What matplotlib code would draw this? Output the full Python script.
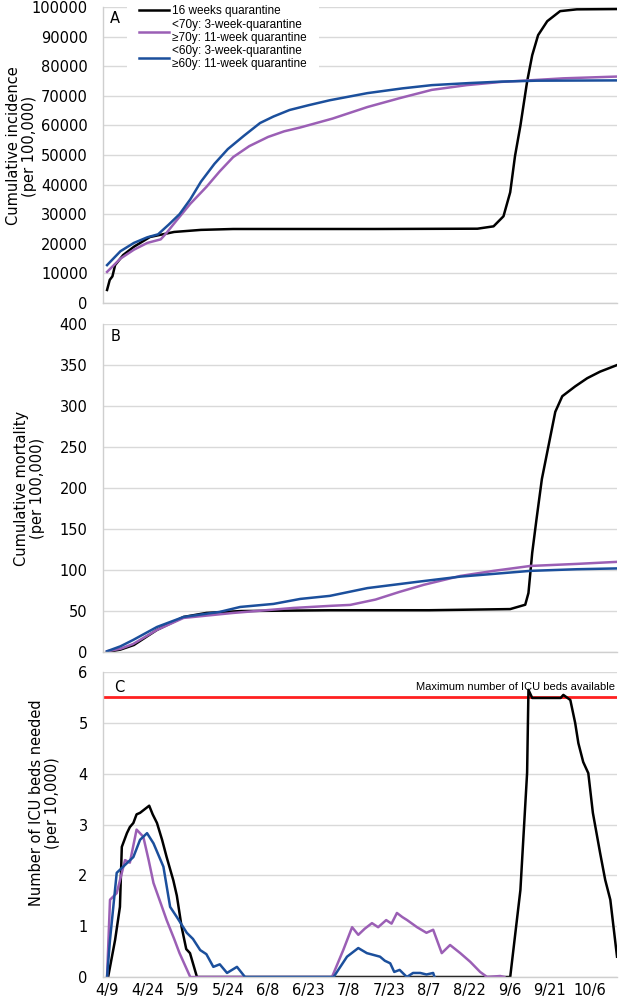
#!/usr/bin/env python3
"""
Quarantine scenarios: cumulative incidence, cumulative mortality and ICU beds needed
"""

import matplotlib
matplotlib.use('Agg')
import matplotlib.pyplot as plt

# day 0 = 4/9
tick_days = [0, 15, 30, 45, 60, 75, 90, 105, 120, 135, 150, 165, 180]
tick_labels = ['4/9', '4/24', '5/9', '5/24', '6/8', '6/23', '7/8', '7/23',
               '8/7', '8/22', '9/6', '9/21', '10/6']

legend_labels = ['16 weeks quarantine',
                 '<70y: 3-week-quarantine\n≥70y: 11-week quarantine',
                 '<60y: 3-week-quarantine\n≥60y: 11-week quarantine']

# Panel A - cumulative incidence (per 100,000)
inc_black_days = [0, 1, 2, 3, 6, 10, 16, 25, 35, 47, 100, 138, 144, 147.7, 150.2,
                  152, 154, 156.5, 158.4, 160.6, 164, 168.8, 175, 190]
inc_black = [4400, 7800, 9000, 12800, 16200, 19000, 22300, 24000, 24700, 25000, 25000,
             25100, 25900, 29300, 37400, 49700, 59900, 74800, 83700, 90500, 95200,
             98600, 99200, 99300]

inc_purple_days = [0, 5, 10, 15, 20, 22, 26, 31, 37, 42, 47, 53, 60, 66, 72, 84,
                   97, 109, 121, 134, 147, 157, 170, 190]
inc_purple = [10500, 15000, 18000, 20300, 21500, 23500, 28000, 33500, 39200, 44500,
              49300, 53000, 56100, 58000, 59300, 62300, 66200, 69200, 72000, 73600,
              74700, 75200, 75900, 76500]

inc_blue_days = [0, 5, 10, 15, 19, 23, 27, 31, 35, 40, 45, 51, 57, 62, 68, 75, 83,
                 97, 110, 121, 135, 147, 160, 190]
inc_blue = [12800, 17500, 20300, 22200, 23200, 26500, 30000, 35000, 41000, 47000,
            52000, 56500, 60800, 63000, 65200, 66800, 68500, 70900, 72500, 73600,
            74300, 74800, 75100, 75200]

# Panel B - cumulative mortality (per 100,000)
mort_black_days = [0, 5, 10, 18.6, 28.5, 37, 50, 83, 120, 150.2, 155.8, 157, 158.4,
                   160, 162, 164.5, 167, 169.6, 174.4, 178.9, 183.7, 190]
mort_black = [0, 3, 8.6, 27, 42.8, 47.7, 50, 51, 51, 52.4, 57.7, 72, 121, 162, 211,
              252, 293, 312, 324, 334, 342, 350]

mort_purple_days = [0, 5, 9.7, 18.6, 28.5, 47, 69.5, 83, 90.6, 100, 109, 118, 131.6,
                    144, 157.7, 175, 190]
mort_purple = [1, 4, 9.8, 27, 41.6, 47.7, 53.8, 56.3, 57.5, 64, 73.4, 82, 92.8, 99,
               105, 107.5, 110]

mort_blue_days = [0, 5, 9.7, 18.6, 28.5, 42, 49.6, 62, 72, 83, 97, 115.5, 131.6,
                  157.7, 175, 190]
mort_blue = [1, 7, 14.7, 30.6, 42.8, 49, 55, 58.7, 64.8, 68.5, 78, 85.6, 92, 99,
             101, 102]

# Panel C - ICU beds needed (per 10,000)
icu_black_days = [0.4, 3, 4.8, 5.5, 7.4, 8.5, 9.8, 11, 12.3, 14, 15.7, 17, 18.6,
                  20.5, 22.2, 24.7, 26, 27.8, 29.5, 30.9, 33.5,
                  150.2, 154, 156.5, 157, 158.4, 163, 169, 170, 172.6, 174.4, 175.6,
                  177.4, 179.3, 181, 183.7, 185.6, 187.5, 190]
icu_black = [0, 0.73, 1.38, 2.56, 2.83, 2.95, 3.03, 3.2, 3.23, 3.3, 3.37, 3.2, 3.03,
             2.7, 2.36, 1.9, 1.6, 0.98, 0.55, 0.47, 0,
             0, 1.71, 4.02, 5.65, 5.49, 5.49, 5.49, 5.55, 5.45, 5.0, 4.6,
             4.23, 4.01, 3.23, 2.44, 1.91, 1.52, 0.4]

icu_purple_days = [0, 1.1, 3.6, 6.7, 8.5, 11, 13.5, 15.5, 17.3, 20, 22.2, 25, 27, 31,
                   83.8, 88, 91.3, 93.6, 96, 98.7, 101, 104, 106, 108, 110, 111.8,
                   115.5, 119, 121.5, 124.7, 127.8, 131.6, 135.3, 139, 141.6, 146.5, 148]
icu_purple = [0, 1.52, 1.65, 2.3, 2.25, 2.9, 2.76, 2.3, 1.85, 1.45, 1.12, 0.75, 0.47, 0,
              0, 0.53, 0.98, 0.83, 0.95, 1.06, 0.98, 1.12, 1.05, 1.26, 1.18, 1.12,
              0.98, 0.87, 0.93, 0.47, 0.63, 0.47, 0.3, 0.1, 0, 0.02, 0]

icu_blue_days = [0, 1.1, 3.6, 6, 9.8, 12.3, 14.9, 17.3, 21, 23.5, 26, 29.7, 32,
                 34.7, 37, 39.6, 42, 44.7, 48.4, 51.4,
                 84.4, 89.4, 93.6, 96.8, 101.7, 103.5, 105.5, 107, 109, 111.7,
                 114, 116.7, 119, 121.5, 122]
icu_blue = [0, 0.73, 2.05, 2.17, 2.36, 2.7, 2.83, 2.63, 2.17, 1.38, 1.18, 0.87, 0.75,
            0.53, 0.45, 0.2, 0.25, 0.08, 0.2, 0,
            0, 0.4, 0.57, 0.47, 0.4, 0.32, 0.27, 0.1, 0.14, 0,
            0.08, 0.08, 0.05, 0.08, 0]

icu_capacity = 5.5

BLACK = '#000000'
PURPLE = '#9b5fb5'
BLUE = '#1b4f9c'
GRID = '#d9d9d9'
LW = 1.8


def style_axis(ax, ymax, ystep):
    ax.set_xlim(-1.5, 190)
    ax.set_ylim(0, ymax)
    ax.set_yticks([ystep * i for i in range(int(round(ymax / ystep)) + 1)])
    ax.grid(True, axis='y', color=GRID, linewidth=1.0)
    ax.set_axisbelow(True)
    for side in ('top', 'right'):
        ax.spines[side].set_visible(False)
    for side in ('left', 'bottom'):
        ax.spines[side].set_color('#cfcfcf')
        ax.spines[side].set_linewidth(1.0)
    ax.tick_params(axis='both', length=0, labelsize=10.5, pad=11)
    ax.tick_params(axis='x', pad=4)
    ax.set_xticks(tick_days)


fig = plt.figure(figsize=(6.21, 9.99), dpi=100)
ax1 = fig.add_axes([0.1659, 0.6967, 0.8277, 0.2963])
ax2 = fig.add_axes([0.1659, 0.3473, 0.8277, 0.3283])
ax3 = fig.add_axes([0.1659, 0.0220, 0.8277, 0.3053])

# Panel A
ax1.plot(inc_black_days, inc_black, color=BLACK, lw=LW, label=legend_labels[0])
ax1.plot(inc_purple_days, inc_purple, color=PURPLE, lw=LW, label=legend_labels[1])
ax1.plot(inc_blue_days, inc_blue, color=BLUE, lw=LW, label=legend_labels[2])
style_axis(ax1, 100000, 10000)
ax1.set_xticklabels([])
ax1.set_ylabel('Cumulative incidence\n(per 100,000)', fontsize=10.5, linespacing=1.1)
ax1.yaxis.set_label_coords(-0.128, 0.53)
ax1.text(0.014, 0.985, 'A', transform=ax1.transAxes, fontsize=10.5, va='top')
leg = ax1.legend(loc='upper left', bbox_to_anchor=(0.0465, 1.045), frameon=True,
                 facecolor='white', edgecolor='none', framealpha=1,
                 prop={'family': 'Liberation Sans', 'size': 8.5},
                 handlelength=2.6, handletextpad=0.25, labelspacing=0.15,
                 borderpad=1.0, borderaxespad=0)
for t in leg.get_texts():
    t.set_linespacing(1.05)

# Panel B
ax2.plot(mort_black_days, mort_black, color=BLACK, lw=LW)
ax2.plot(mort_purple_days, mort_purple, color=PURPLE, lw=LW)
ax2.plot(mort_blue_days, mort_blue, color=BLUE, lw=LW)
style_axis(ax2, 400, 50)
ax2.set_xticklabels([])
ax2.set_ylabel('Cumulative mortality\n(per 100,000)', fontsize=10.5, linespacing=1.1)
ax2.yaxis.set_label_coords(-0.113, 0.5)
ax2.text(0.014, 0.985, 'B', transform=ax2.transAxes, fontsize=10.5, va='top')

# Panel C
ax3.plot(icu_black_days, icu_black, color=BLACK, lw=LW)
ax3.plot(icu_purple_days, icu_purple, color=PURPLE, lw=LW)
ax3.plot(icu_blue_days, icu_blue, color=BLUE, lw=LW)
ax3.axhline(icu_capacity, color='#ff2020', lw=2.0, zorder=1.5)
ax3.text(0.997, (icu_capacity + 0.1) / 6, 'Maximum number of ICU beds available',
         transform=ax3.transAxes, ha='right', va='bottom', fontsize=8,
         family='Liberation Sans')
style_axis(ax3, 6, 1)
ax3.set_xticklabels(tick_labels)
ax3.set_ylabel('Number of ICU beds needed\n(per 10,000)', fontsize=10.5, linespacing=1.1)
ax3.yaxis.set_label_coords(-0.084, 0.57)
ax3.text(0.022, 0.975, 'C', transform=ax3.transAxes, fontsize=10.5, va='top')

fig.savefig('out.png', dpi=100)
plt.close(fig)
